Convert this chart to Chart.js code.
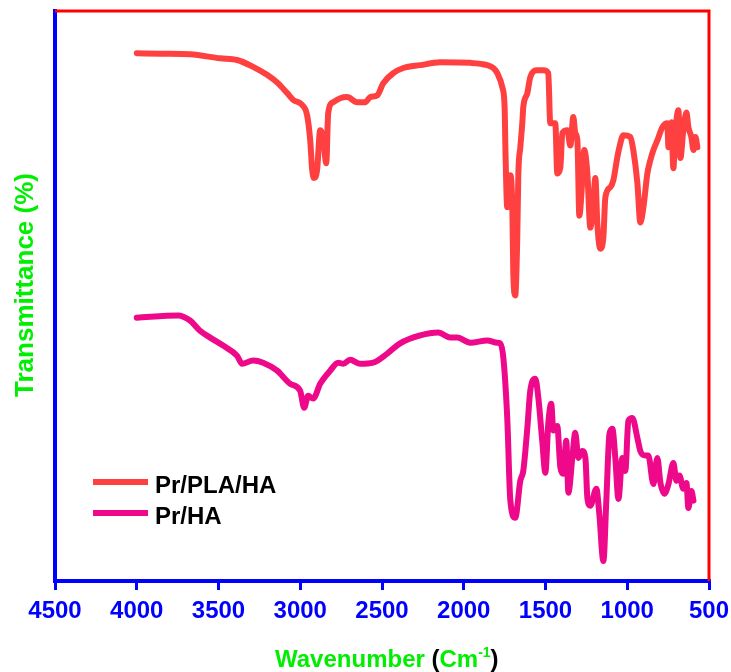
<!DOCTYPE html>
<html>
<head>
<meta charset="utf-8">
<script src="https://cdn.jsdelivr.net/npm/chart.js@4"></script>
<style>
html, body { margin: 0; padding: 0; background: #ffffff; }
canvas { display: block; }
</style>
</head>
<body>
<canvas id="c" width="731" height="672"></canvas>
<script>
// ---------- data ----------
const seriesNames = ['Pr/PLA/HA', 'Pr/HA'];

const plaWavenumber = [4000, 3850, 3674, 3490, 3386, 3288, 3203, 3135, 3080, 3043, 2988, 2958, 2939, 2927, 2915, 2897, 2878, 2860, 2841, 2829, 2799, 2756, 2713, 2652, 2603, 2572, 2529, 2493, 2431, 2370, 2266, 2144, 1960, 1856, 1819, 1795, 1764, 1750, 1745, 1734, 1715, 1703, 1697, 1685, 1673, 1666, 1654, 1642, 1636, 1611, 1593, 1550, 1513, 1483, 1471, 1440, 1428, 1409, 1397, 1367, 1348, 1330, 1318, 1305, 1293, 1275, 1263, 1244, 1226, 1207, 1195, 1183, 1165, 1146, 1134, 1103, 1085, 1061, 1048, 1024, 981, 963, 938, 920, 901, 877, 859, 840, 816, 785, 755, 748, 730, 718, 706, 687, 675, 657, 638, 626, 608, 595, 583, 571];
const plaTransmittance = [92.6, 92.5, 92.4, 91.7, 91.4, 90.2, 88.8, 87.3, 85.6, 84.4, 83.5, 81.7, 77.3, 72.1, 70.7, 72.1, 79.1, 77.9, 73.3, 82.1, 84.0, 84.7, 84.9, 84.0, 84.0, 84.9, 85.2, 87.3, 89.1, 90.0, 90.5, 91.0, 90.9, 90.5, 90.0, 89.1, 86.6, 83.1, 75.6, 65.6, 71.2, 65.6, 54.0, 50.1, 59.8, 71.5, 76.1, 80.3, 83.1, 85.6, 88.4, 89.6, 89.6, 89.1, 80.3, 80.3, 71.5, 72.6, 78.6, 79.1, 76.4, 81.4, 78.6, 77.3, 64.1, 70.3, 75.6, 71.5, 62.0, 66.8, 70.7, 62.7, 58.3, 60.3, 67.3, 69.1, 70.3, 74.3, 76.1, 78.2, 77.9, 75.6, 69.8, 62.9, 65.6, 71.5, 73.8, 75.6, 77.3, 79.6, 80.3, 76.1, 80.5, 72.4, 78.6, 82.6, 74.2, 79.1, 82.2, 79.6, 77.9, 75.6, 77.9, 76.1];

const haWavenumber = [4000, 3747, 3674, 3613, 3551, 3472, 3386, 3356, 3288, 3227, 3141, 3062, 3001, 2976, 2952, 2921, 2878, 2817, 2768, 2737, 2695, 2633, 2554, 2468, 2389, 2266, 2156, 2083, 2040, 1960, 1856, 1795, 1777, 1758, 1734, 1715, 1685, 1654, 1636, 1611, 1593, 1562, 1544, 1520, 1501, 1483, 1465, 1452, 1428, 1409, 1391, 1373, 1360, 1336, 1318, 1299, 1275, 1256, 1244, 1226, 1189, 1171, 1146, 1128, 1109, 1091, 1073, 1054, 1030, 1012, 993, 969, 938, 920, 889, 871, 840, 816, 797, 773, 748, 718, 699, 681, 657, 638, 626, 608, 595];
const haTransmittance = [46.2, 46.6, 45.7, 43.9, 42.7, 41.3, 39.5, 38.1, 38.7, 38.3, 36.9, 34.6, 33.4, 30.4, 32.5, 32.0, 34.6, 36.9, 38.3, 38.1, 38.8, 38.1, 38.3, 39.9, 41.7, 43.1, 43.6, 42.7, 42.7, 41.8, 42.2, 41.8, 41.7, 39.2, 28.6, 14.1, 11.1, 17.6, 19.3, 26.9, 33.4, 35.5, 32.2, 24.6, 19.0, 27.6, 31.1, 26.4, 27.2, 19.9, 18.8, 24.6, 15.5, 21.6, 26.0, 21.6, 22.8, 21.6, 14.6, 13.2, 16.2, 11.8, 3.5, 14.1, 25.8, 26.7, 21.6, 14.4, 21.6, 19.3, 28.1, 28.6, 25.1, 22.8, 22.0, 22.0, 17.0, 21.6, 17.2, 15.3, 17.0, 20.7, 17.6, 18.5, 16.2, 17.2, 12.8, 15.8, 14.1];

const xTickValues = [4500, 4000, 3500, 3000, 2500, 2000, 1500, 1000, 500];
const yTitleText = 'Transmittance (%)';
const xTitleParts = ['Wavenumber ', '(', 'Cm', '-1', ')'];

const seriesColors = ['#ff4040', '#ee088a'];
const AXIS_BLUE = '#0000ff';
const FRAME_RED = '#ff0000';
const TITLE_GREEN = '#00ee00';
const FONT = "'Liberation Sans', Arial, sans-serif";

function toPoints(xs, ys) { return xs.map((x, i) => ({ x: x, y: ys[i] })); }

const decor = {
  id: 'decor',
  afterDraw(chart) {
    const ctx = chart.ctx;
    const a = chart.chartArea;
    ctx.save();
    // red top and right frame
    ctx.strokeStyle = FRAME_RED;
    ctx.lineWidth = 3;
    ctx.beginPath();
    ctx.moveTo(a.left, a.top);
    ctx.lineTo(a.right, a.top);
    ctx.lineTo(a.right, a.bottom);
    ctx.stroke();

    // legend
    const ds = chart.data.datasets;
    const legendY = [482, 513];
    ds.forEach((d, i) => {
      ctx.strokeStyle = d.borderColor;
      ctx.lineWidth = 6;
      ctx.beginPath();
      ctx.moveTo(93, legendY[i]);
      ctx.lineTo(148, legendY[i]);
      ctx.stroke();
      ctx.fillStyle = '#000000';
      ctx.font = 'bold 24px ' + FONT;
      ctx.textAlign = 'left';
      ctx.textBaseline = 'alphabetic';
      ctx.fillText(d.label, 155, legendY[i] + 11);
    });

    // y title
    ctx.save();
    ctx.translate(33, 285);
    ctx.rotate(-Math.PI / 2);
    ctx.fillStyle = TITLE_GREEN;
    ctx.font = 'bold 26px ' + FONT;
    ctx.textAlign = 'center';
    ctx.textBaseline = 'alphabetic';
    ctx.fillText(yTitleText, 0, 0);
    ctx.restore();

    // x title with superscript
    let x = 275;
    const base = 667;
    ctx.textAlign = 'left';
    ctx.textBaseline = 'alphabetic';
    const styles = [
      { c: TITLE_GREEN, f: 'bold 24px ', dy: 0 },
      { c: '#000000', f: 'bold 24px ', dy: 0 },
      { c: TITLE_GREEN, f: 'bold 24px ', dy: 0 },
      { c: TITLE_GREEN, f: 'bold 14px ', dy: -10 },
      { c: '#000000', f: 'bold 24px ', dy: 0 }
    ];
    xTitleParts.forEach((t, i) => {
      ctx.font = styles[i].f + FONT;
      ctx.fillStyle = styles[i].c;
      ctx.fillText(t, x, base + styles[i].dy);
      x += ctx.measureText(t).width;
    });
    ctx.restore();
  }
};

new Chart(document.getElementById('c'), {
  type: 'line',
  data: {
    datasets: [
      { label: seriesNames[0], data: toPoints(plaWavenumber, plaTransmittance), borderColor: seriesColors[0], borderWidth: 6, pointRadius: 0, fill: false, cubicInterpolationMode: 'monotone', borderJoinStyle: 'round', borderCapStyle: 'round' },
      { label: seriesNames[1], data: toPoints(haWavenumber, haTransmittance), borderColor: seriesColors[1], borderWidth: 6, pointRadius: 0, fill: false, cubicInterpolationMode: 'monotone', borderJoinStyle: 'round', borderCapStyle: 'round' }
    ]
  },
  options: {
    responsive: false,
    animation: false,
    devicePixelRatio: 1,
    layout: { padding: { top: 11, right: 22, left: 0, bottom: 0 } },
    plugins: { legend: { display: false }, tooltip: { enabled: false } },
    scales: {
      x: {
        type: 'linear', reverse: true, min: 500, max: 4500,
        afterBuildTicks(s) { s.ticks = xTickValues.map(v => ({ value: v })); },
        afterFit(s) { s.height = 91; s.paddingLeft = 0; s.paddingRight = 0; },
        grid: { drawOnChartArea: false, drawTicks: true, tickLength: 9, color: AXIS_BLUE, lineWidth: 3 },
        border: { display: true, color: AXIS_BLUE, width: 4 },
        ticks: { color: AXIS_BLUE, font: { family: FONT, size: 24, weight: 'bold' }, padding: 7, maxRotation: 0, autoSkip: false, callback: (v) => String(v) }
      },
      y: {
        type: 'linear', min: 0, max: 100,
        afterFit(s) { s.width = 55; s.paddingTop = 0; s.paddingBottom = 0; },
        ticks: { display: false },
        grid: { display: false, drawTicks: false },
        border: { display: true, color: AXIS_BLUE, width: 4 }
      }
    }
  },
  plugins: [decor]
});
</script>
</body>
</html>
